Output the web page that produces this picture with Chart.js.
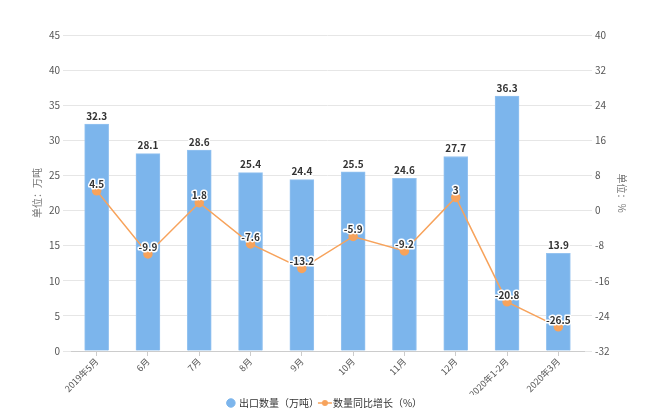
<!DOCTYPE html>
<html>
<head>
<meta charset="utf-8">
<script src="https://cdn.jsdelivr.net/npm/chart.js@4"></script>
<style>
  html, body { margin: 0; padding: 0; background: #fff; }
  #wrap { width: 650px; height: 420px; }
</style>
</head>
<body>
<div id="wrap"><canvas id="c" width="650" height="420"></canvas></div>
<script>
// 数据
const months = ['2019年5月', '6月', '7月', '8月', '9月', '10月', '11月', '12月', '2020年1-2月', '2020年3月'];
const exportQty = [32.3, 28.1, 28.6, 25.4, 24.4, 25.5, 24.6, 27.7, 36.3, 13.9];
const yoyGrowth = [4.5, -9.9, 1.8, -7.6, -13.2, -5.9, -9.2, 3, -20.8, -26.5];
const leftTicks = [0, 45, 5];
const rightTicks = [-32, 40, 8];

const FONT = "'Noto Sans CJK SC', 'Noto Sans', sans-serif";

// 图例里折线的小图标
const lineIcon = document.createElement('canvas');
lineIcon.width = 16; lineIcon.height = 8;
(function () {
    const g = lineIcon.getContext('2d');
    g.strokeStyle = '#f7a35c';
    g.lineWidth = 1.5;
    g.beginPath(); g.moveTo(1, 4); g.lineTo(15, 4); g.stroke();
    g.fillStyle = '#f7a35c';
    g.beginPath(); g.arc(8, 4, 3, 0, Math.PI * 2); g.fill();
})();

// 数值标签
const valueLabels = {
    id: 'valueLabels',
    afterDatasetsDraw(chart) {
        const ctx = chart.ctx;
        ctx.save();
        ctx.font = 'bold 10px ' + FONT;
        ctx.textAlign = 'center';
        ctx.lineJoin = 'round';
        chart.data.datasets.forEach((ds, i) => {
            const meta = chart.getDatasetMeta(i);
            meta.data.forEach((el, j) => {
                const txt = String(ds.data[j]);
                let y;
                if (ds.type === 'bar') { ctx.textBaseline = 'bottom'; y = el.y - 3; }
                else { ctx.textBaseline = 'middle'; y = el.y - 7; }
                ctx.strokeStyle = '#fff';
                ctx.lineWidth = 3;
                ctx.strokeText(txt, el.x, y);
                ctx.fillStyle = '#333';
                ctx.fillText(txt, el.x, y);
            });
        });
        ctx.restore();
    }
};

const ctx = document.getElementById('c').getContext('2d');
const chart = new Chart(ctx, {
    data: {
        labels: months,
        datasets: [
            {
                type: 'line',
                label: '数量同比增长（%）',
                data: yoyGrowth,
                yAxisID: 'y1',
                borderColor: '#f7a35c',
                backgroundColor: '#f7a35c',
                borderWidth: 1.5,
                pointRadius: 4,
                pointHoverRadius: 4,
                pointStyle: 'circle',
                tension: 0,
                order: 0
            },
            {
                type: 'bar',
                label: '出口数量（万吨）',
                data: exportQty,
                yAxisID: 'y',
                backgroundColor: '#7cb5ec',
                borderColor: '#95c3f0',
                borderWidth: 1,
                barThickness: 24,
                order: 1
            }
        ]
    },
    options: {
        responsive: false,
        animation: false,
        layout: { padding: { top: 35, right: 0, left: 0, bottom: 2 } },
        plugins: {
            tooltip: { enabled: false },
            legend: {
                position: 'bottom',
                reverse: true,
                labels: {
                    usePointStyle: true,
                    boxWidth: 6,
                    boxHeight: 6,
                    padding: 3,
                    color: '#333',
                    font: { size: 10, family: FONT },
                    generateLabels(chart) {
                        const items = Chart.defaults.plugins.legend.labels.generateLabels(chart);
                        items.forEach(it => {
                            if (it.datasetIndex === 0) { it.pointStyle = lineIcon; }
                            else { it.pointStyle = 'circle'; it.fillStyle = '#7cb5ec'; it.strokeStyle = '#7cb5ec'; }
                        });
                        return items;
                    }
                }
            }
        },
        scales: {
            x: {
                offset: true,
                grid: { display: true, offset: false, drawOnChartArea: false, drawTicks: true, tickLength: 5, color: '#ccc' },
                border: { color: '#ccc' },
                ticks: {
                    maxRotation: 45, minRotation: 45, autoSkip: false,
                    color: '#555', font: { size: 9, family: FONT }, padding: 0
                },
                afterFit(scale) { scale.height = 44; }
            },
            y: {
                position: 'left',
                min: leftTicks[0], max: leftTicks[1],
                ticks: { stepSize: leftTicks[2], color: '#555', font: { size: 10, family: FONT }, padding: 3 },
                grid: { color: '#e6e6e6', tickLength: 8, tickColor: '#e6e6e6' },
                border: { display: false },
                title: { display: true, text: '单位：万吨', color: '#777', font: { size: 10, family: FONT }, padding: { top: 31, bottom: 31 } },
                afterFit(scale) { scale.width = 71; }
            },
            y1: {
                position: 'right',
                min: rightTicks[0], max: rightTicks[1],
                ticks: { stepSize: rightTicks[2], color: '#555', font: { size: 10, family: FONT }, padding: 3 },
                grid: { drawOnChartArea: false, tickLength: 8, color: '#e6e6e6' },
                border: { display: false },
                title: { display: true, text: '单位：%', color: '#777', font: { size: 10, family: FONT }, padding: { top: 22, bottom: 22 } },
                afterFit(scale) { scale.width = 66; }
            }
        }
    },
    plugins: [valueLabels]
});
</script>
</body>
</html>
